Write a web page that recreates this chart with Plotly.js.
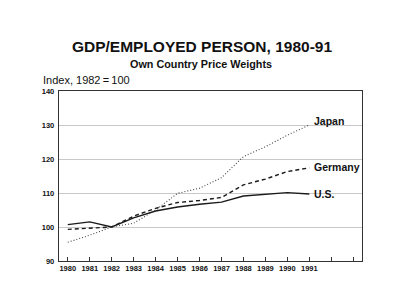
<!DOCTYPE html>
<html><head><meta charset="utf-8">
<script src="https://cdn.plot.ly/plotly-3.0.1.min.js"></script>
<style>html,body{margin:0;padding:0;background:#fff}#c{width:400px;height:302px}</style>
</head><body><div id="c"></div>
<script>
const years = [1980,1981,1982,1983,1984,1985,1986,1987,1988,1989,1990,1991];
const tickLabels = ['1980','1981','1982','1983','1984','1985','1986','1987','1988','1989','1990','1991','',''];
const tickYears = [1980,1981,1982,1983,1984,1985,1986,1987,1988,1989,1990,1991,1992,1993];
const us      = [100.7,101.5,100.0,102.7,104.7,105.9,106.7,107.3,109.1,109.7,110.1,109.7];
const germany = [99.3, 99.6,100.0,103.2,105.5,107.2,107.8,108.7,112.4,114.1,116.3,117.4];
const japan   = [95.5, 97.6,100.0,101.1,105.0,109.9,111.4,114.5,120.7,123.6,127.0,130.0];
const seriesNames = ['U.S.','Germany','Japan'];

const F = 'Liberation Sans, Arial, sans-serif';
const traces = [
  {x: years, y: us, mode:'lines', line:{color:'#1a1a1a', width:1.4, dash:'solid'}, name: seriesNames[0]},
  {x: years, y: germany, mode:'lines', line:{color:'#1a1a1a', width:1.4, dash:'4px,3px'}, name: seriesNames[1]},
  {x: years, y: japan, mode:'lines', line:{color:'#444', width:1.1, dash:'1px,2px'}, name: seriesNames[2]}
];
const last = years.length - 1;
const layout = {
  width:400, height:302,
  margin:{l:59, r:38, t:91, b:41},
  paper_bgcolor:'#fff', plot_bgcolor:'#fff',
  showlegend:false,
  title:{text:'<b>GDP/EMPLOYED PERSON, 1980-91</b>', font:{family:F, size:15.5, color:'#111'}, x:0.505, xanchor:'center', y:0.845, yanchor:'middle'},
  xaxis:{range:[1979.6,1993.4], tickvals:tickYears, ticktext:tickLabels, ticks:'inside', ticklen:4, tickcolor:'#333',
    showgrid:false, zeroline:false, showline:true, linecolor:'#333', linewidth:1.2, mirror:true,
    tickfont:{family:F, size:7.5, color:'#111', weight:'bold'}, tickangle:0},
  yaxis:{range:[90,140], dtick:10, ticks:'', showgrid:true, gridcolor:'#c8c8c8', gridwidth:1, zeroline:false,
    showline:true, linecolor:'#333', linewidth:1.2, mirror:true,
    tickfont:{family:F, size:7.5, color:'#111', weight:'bold'}, ticklabelstandoff:2},
  annotations:[
    {xref:'paper', yref:'paper', x:0.47, y:1.16, text:'<b>Own Country Price Weights</b>', showarrow:false, font:{family:F, size:10.8, color:'#111'}, xanchor:'center', yanchor:'middle'},
    {xref:'paper', yref:'paper', x:-0.06, y:1.065, text:'Index, 1982\u2009=\u2009100', showarrow:false, font:{family:F, size:11, color:'#111'}, xanchor:'left', yanchor:'middle'},
    {x:years[last]+0.1, y:japan[last]+1.3, text:'<b>'+seriesNames[2]+'</b>', showarrow:false, xanchor:'left', yanchor:'middle', font:{family:F, size:10.5, color:'#111'}},
    {x:years[last]+0.1, y:germany[last]+0.2, text:'<b>'+seriesNames[1]+'</b>', showarrow:false, xanchor:'left', yanchor:'middle', font:{family:F, size:10.5, color:'#111'}},
    {x:years[last]+0.1, y:us[last]-0.1, text:'<b>'+seriesNames[0]+'</b>', showarrow:false, xanchor:'left', yanchor:'middle', font:{family:F, size:10.5, color:'#111'}}
  ]
};
Plotly.newPlot('c', traces, layout, {displayModeBar:false, staticPlot:true});
</script></body></html>
